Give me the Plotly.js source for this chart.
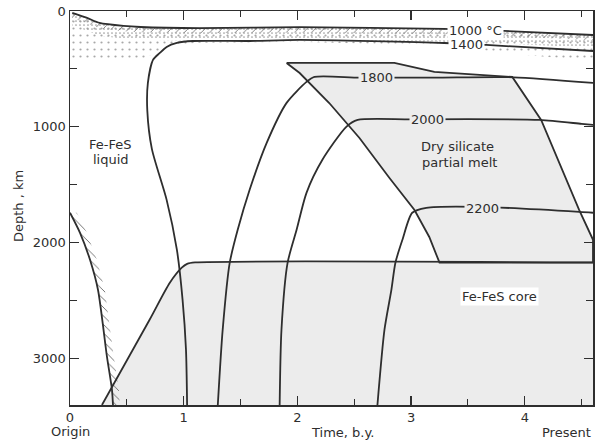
<!DOCTYPE html>
<html>
<head>
<meta charset="utf-8">
<script src="https://cdn.plot.ly/plotly-3.0.1.min.js"></script>
<style>
  html, body { margin: 0; padding: 0; background: #fff; }
  #chart { width: 606px; height: 443px; }
</style>
</head>
<body>
<div id="chart"></div>
<script>
// Axis ticks
const timeTicks = [0, 1, 2, 3, 4];
const depthTicks = [0, 1000, 2000, 3000];

// Isotherms: time (b.y.) vs depth (km)
const iso1000T = [0.02, 0.15, 0.26, 0.47, 0.62, 1.14, 2.02, 3.29, 3.82, 4.6];
const iso1000D = [17, 60, 103, 129, 138, 147, 140, 155, 172, 207];

const iso1400T = [1.03, 1.02, 0.99, 0.94, 0.85, 0.72, 0.68, 0.685, 0.73, 0.79, 0.85, 0.94, 1.08, 1.58, 2.02, 3.29, 3.66, 4.6];
const iso1400D = [3400, 2920, 2490, 2060, 1630, 1190, 860, 620, 422, 362, 310, 276, 259, 259, 250, 276, 293, 345];

const iso1800T = [1.30, 1.343, 1.405, 1.475, 1.58, 1.73, 1.905, 2.08, 2.15, 2.55, 3.2, 3.9, 4.6];
const iso1800D = [3400, 2750, 2172, 1888, 1543, 1138, 793, 612, 569, 575, 575, 572, 621];

const iso2000T = [1.844, 1.86, 1.914, 1.993, 2.08, 2.22, 2.43, 2.53, 3.0, 4.13, 4.5, 4.6];
const iso2000D = [3400, 2750, 2172, 1888, 1569, 1284, 1000, 940, 935, 940, 974, 983];

const iso2200T = [2.704, 2.766, 2.827, 2.862, 2.924, 3.01, 3.134, 3.6, 4.48, 4.6];
const iso2200D = [3400, 2750, 2405, 2172, 1974, 1741, 1698, 1690, 1733, 1741];

// Fe-FeS liquid boundary (hatched)
const liqT = [0.0, 0.088, 0.176, 0.246, 0.325, 0.369, 0.378];
const liqD = [1741, 1914, 2147, 2405, 2983, 3267, 3400];

// Dry silicate partial-melt field
const meltT = [1.905, 2.853, 3.205, 3.89, 4.144, 4.478, 4.6, 4.6, 3.25, 3.16, 3.03, 2.81, 2.546, 2.28, 2.02, 1.905];
const meltD = [448, 448, 526, 569, 940, 1717, 1974, 2172, 2172, 1950, 1717, 1441, 1096, 794, 535, 448];

// Fe-FeS core field
const coreT = [0.281, 0.70, 0.878, 0.983, 1.03, 1.1, 4.6, 4.6, 0.281];
const coreD = [3400, 2664, 2345, 2215, 2182, 2170, 2170, 3400, 3400];
const coreEdgeT = [0.281, 0.70, 0.878, 0.983, 1.03, 1.1, 4.6];
const coreEdgeD = [3400, 2664, 2345, 2215, 2182, 2170, 2170];

// Lower limit of the stippled crust
const stipT = [0, 0.6, 0.85, 1.1, 2.0, 3.3, 4.0, 4.6];
const stipD = [440, 430, 320, 275, 265, 300, 380, 430];

const INK = '#2e2e2e';
const FONT = 'DejaVu Sans, sans-serif';
const GREY = '#ececec';

function band(t1, d1, t2, d2) {
  return {
    x: t1.concat(t2.slice().reverse()),
    y: d1.concat(d2.slice().reverse())
  };
}

const traces = [];

// shaded fields
traces.push({ x: coreT, y: coreD, mode: 'lines', fill: 'toself', fillcolor: GREY,
  line: { width: 0, color: GREY }, hoverinfo: 'skip' });
traces.push({ x: meltT, y: meltD, mode: 'lines', fill: 'toself', fillcolor: GREY,
  line: { width: 1.8, color: INK }, hoverinfo: 'skip' });

// stipple below the 1000 °C isotherm
const sparse = band(iso1000T, iso1000D, stipT, stipD);
traces.push({ x: sparse.x, y: sparse.y, mode: 'lines', fill: 'toself', fillcolor: 'rgba(0,0,0,0)',
  line: { width: 0 }, hoverinfo: 'skip',
  fillpattern: { shape: '.', size: 7, solidity: 0.08, fgcolor: '#a8a8a8', bgcolor: 'rgba(0,0,0,0)' } });
const dense = band(iso1000T, iso1000D, iso1000T, iso1000D.map(d => d + 110));
traces.push({ x: dense.x, y: dense.y, mode: 'lines', fill: 'toself', fillcolor: 'rgba(0,0,0,0)',
  line: { width: 0 }, hoverinfo: 'skip',
  fillpattern: { shape: '.', size: 4, solidity: 0.14, fgcolor: '#9c9c9c', bgcolor: 'rgba(0,0,0,0)' } });

// hatching under the 1000 °C isotherm and beside the liquid boundary
const hatchTop = band(iso1000T, iso1000D, iso1000T, iso1000D.map(d => d + 45));
traces.push({ x: hatchTop.x, y: hatchTop.y, mode: 'lines', fill: 'toself', fillcolor: 'rgba(0,0,0,0)',
  line: { width: 0 }, hoverinfo: 'skip',
  fillpattern: { shape: '/', size: 6, solidity: 0.15, fgcolor: '#777', bgcolor: 'rgba(0,0,0,0)' } });
const hatchLiq = band(liqT, liqD, liqT.map(t => t + 0.06), liqD);
traces.push({ x: hatchLiq.x, y: hatchLiq.y, mode: 'lines', fill: 'toself', fillcolor: 'rgba(0,0,0,0)',
  line: { width: 0 }, hoverinfo: 'skip',
  fillpattern: { shape: '\\', size: 6, solidity: 0.15, fgcolor: '#666', bgcolor: 'rgba(0,0,0,0)' } });

// boundary lines
const curve = (x, y) => ({ x, y, mode: 'lines', hoverinfo: 'skip',
  line: { color: INK, width: 1.8, shape: 'spline', smoothing: 0.7 } });
traces.push(curve(coreEdgeT, coreEdgeD));
traces.push(curve(liqT, liqD));
traces.push(curve(iso1000T, iso1000D));
traces.push(curve(iso1400T, iso1400D));
traces.push(curve(iso1800T, iso1800D));
traces.push(curve(iso2000T, iso2000D));
traces.push(curve(iso2200T, iso2200D));

const lbl = (text, x, y, bg) => ({
  text, x, y, xref: 'x', yref: 'y', showarrow: false,
  xanchor: 'center', yanchor: 'middle',
  font: { family: FONT, size: 13, color: INK },
  bgcolor: bg || 'rgba(0,0,0,0)', borderpad: 1
});

const axisText = (text, x, xref, y, extra) => Object.assign({
  text, x, xref, y, yref: 'paper', showarrow: false,
  xanchor: 'center', yanchor: 'middle',
  font: { family: FONT, size: 13, color: INK }
}, extra || {});

const annotations = [
  lbl('1000 °C', 3.565, 164, '#ffffff'),
  lbl('1400', 3.485, 285, '#ffffff'),
  lbl('1800', 2.695, 578, GREY),
  lbl('2000', 3.143, 940, GREY),
  lbl('2200', 3.626, 1700, GREY),
  lbl('Fe-FeS', 0.35, 1155),
  lbl('liquid', 0.36, 1285),
  lbl('Dry silicate', 3.41, 1172),
  lbl('partial melt', 3.43, 1310),
  lbl('Fe-FeS core', 3.775, 2465, '#ffffff'),
  axisText('Origin', 0, 'x', -0.0685),
  axisText('Time, b.y.', 2.4, 'x', -0.071),
  axisText('Present', 1, 'paper', -0.071, { xanchor: 'right' }),
  axisText('Depth , km', -0.0994, 'paper', 0.505, { textangle: -90 })
];

const axisCommon = {
  showgrid: false, zeroline: false, showline: true, linecolor: INK, linewidth: 1.5,
  mirror: 'allticks', ticks: 'inside', ticklen: 9, tickwidth: 1.2, tickcolor: INK,
  tickfont: { family: FONT, size: 13, color: INK }
};

const layout = {
  width: 606, height: 443,
  margin: { l: 70, r: 13, t: 11, b: 38 },
  paper_bgcolor: '#ffffff', plot_bgcolor: '#ffffff',
  showlegend: false,
  xaxis: Object.assign({}, axisCommon, {
    range: [0, 4.6], tickvals: timeTicks, ticktext: timeTicks.map(String),
    minor: { dtick: 0.5, ticks: 'inside', ticklen: 6, tickcolor: INK, tickwidth: 1 }
  }),
  yaxis: Object.assign({}, axisCommon, {
    range: [3400, 0], tickvals: depthTicks, ticktext: depthTicks.map(String),
    minor: { dtick: 500, ticks: 'inside', ticklen: 7, tickcolor: INK, tickwidth: 1 }
  }),
  annotations
};

Plotly.newPlot('chart', traces, layout, { staticPlot: true });
</script>
</body>
</html>
